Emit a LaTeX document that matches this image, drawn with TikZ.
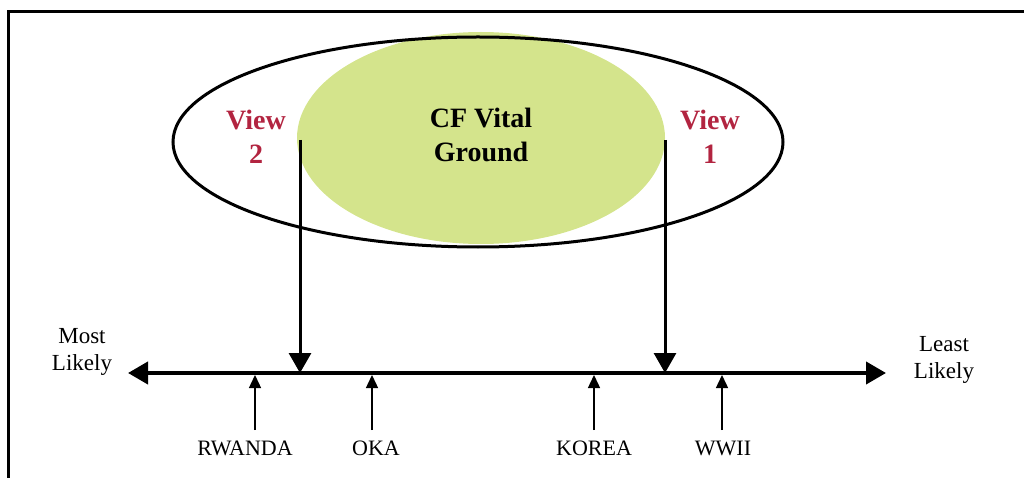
\documentclass[tikz,border=0pt]{standalone}
\usepackage{fontspec}
\setmainfont{Liberation Serif}
\usetikzlibrary{arrows.meta}
\definecolor{cfgreen}{RGB}{212,228,140}
\definecolor{viewred}{RGB}{178,36,64}
\tikzset{
  frameline/.style={line width=3pt, line cap=rect},
  outerell/.style={draw=black, line width=3pt},
  bigarrow/.style={line width=3pt, -{Triangle[length=20pt,width=22pt]}},
  axisarrow/.style={line width=4pt, {Triangle[length=20pt,width=22pt]}-{Triangle[length=20pt,width=22pt]}},
  smallarrow/.style={line width=1.4pt, -{Triangle[length=13pt,width=12pt]}},
  boldlbl/.style={font=\fontsize{28}{34}\selectfont\bfseries, align=center, inner sep=0pt},
  viewlbl/.style={boldlbl, text=viewred},
  axislbl/.style={font=\fontsize{23}{27}\selectfont, align=center, inner sep=0pt},
  caselbl/.style={font=\fontsize{22}{26}\selectfont, inner sep=0pt, anchor=base}
}
\begin{document}
\begin{tikzpicture}[x=1pt,y=-1pt]
\useasboundingbox (0,0) rectangle (1024,478);
% frame
\draw[frameline] (8,478) -- (8,12) -- (1030,12);
% green ellipse and outer ellipse
\fill[cfgreen] (481,138) ellipse [x radius=184, y radius=106];
\draw[outerell] (478,142) ellipse [x radius=305, y radius=105];
% labels inside
\node[boldlbl] (cf) at (481,135) {CF Vital\\Ground};
\node[viewlbl] (v2) at (256,137) {View\\2};
\node[viewlbl] (v1) at (710,137) {View\\1};
% axis
\coordinate (axL) at (128,373);
\coordinate (axR) at (886,373);
\draw[axisarrow] (axL) -- (axR);
\node[axislbl] (most) at (82,352) {Most\\Likely};
\node[axislbl] (least) at (944,360) {Least\\Likely};
% big arrows
\coordinate (v2top) at (300,140);
\coordinate (v2bot) at (300,373);
\coordinate (v1top) at (665,140);
\coordinate (v1bot) at (665,373);
\draw[bigarrow] (v2top) -- (v2bot);
\draw[bigarrow] (v1top) -- (v1bot);
% case labels
\node[caselbl] (rwanda) at (245,455) {RWANDA};
\node[caselbl] (oka) at (376,455) {OKA};
\node[caselbl] (korea) at (594,455) {KOREA};
\node[caselbl] (wwii) at (723,455) {WWII};
\foreach \n/\x in {rwanda/255,oka/372,korea/594,wwii/722}{
  \coordinate (\n-tail) at (\x,430);
  \coordinate (\n-tip) at (\x,375);
  \draw[smallarrow] (\n-tail) -- (\n-tip);
}
\end{tikzpicture}
\end{document}
